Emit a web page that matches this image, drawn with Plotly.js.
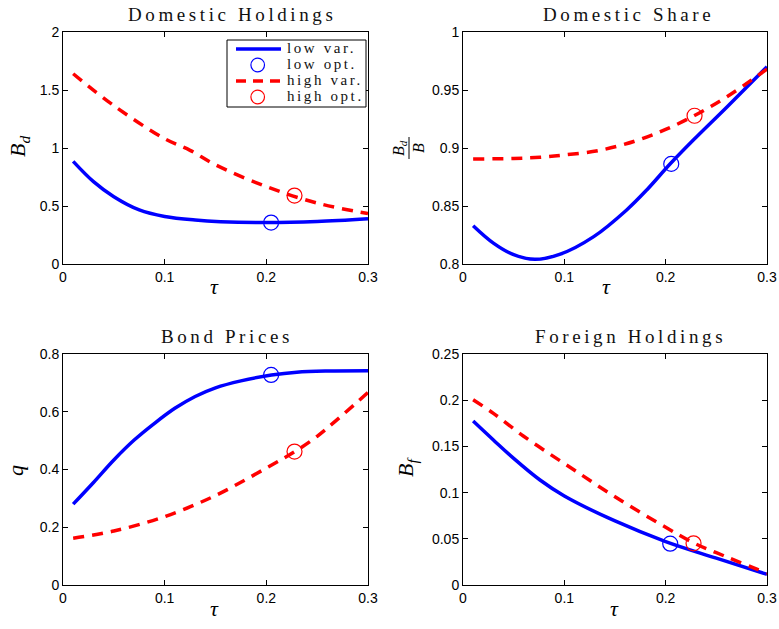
<!DOCTYPE html>
<html>
<head>
<meta charset="utf-8">
<script src="https://cdn.plot.ly/plotly-3.0.1.min.js"></script>
<style>
html,body{margin:0;padding:0;background:#fff;}
#chart{width:779px;height:629px;}
</style>
</head>
<body>
<div id="chart"></div>
<script>
// ---------- Data ----------
// Panel 1: Domestic Holdings B_d
const bdLowTau  = [0.01, 0.03, 0.05, 0.075, 0.1, 0.13, 0.155, 0.2, 0.25, 0.3];
const bdLowVal  = [0.885, 0.71, 0.58, 0.466, 0.41, 0.379, 0.365, 0.357, 0.366, 0.39];
const bdHighTau = [0.01, 0.05, 0.1, 0.125, 0.15, 0.2, 0.25, 0.3];
const bdHighVal = [1.64, 1.365, 1.08, 0.98, 0.855, 0.667, 0.525, 0.435];
const bdLowOpt  = [0.2047, 0.357];
const bdHighOpt = [0.2277, 0.59];

// Panel 2: Domestic Share B_d / B
const shLowTau  = [0.01, 0.03, 0.05, 0.071, 0.096, 0.129, 0.1615, 0.1813, 0.2043, 0.2273, 0.26, 0.3];
const shLowVal  = [0.833, 0.818, 0.808, 0.804, 0.8085, 0.8236, 0.8466, 0.8638, 0.8862, 0.9069, 0.935, 0.970];
const shHighTau = [0.01, 0.05, 0.076, 0.1, 0.135, 0.17, 0.2, 0.2285, 0.26, 0.3];
const shHighVal = [0.8905, 0.891, 0.892, 0.894, 0.898, 0.906, 0.916, 0.928, 0.944, 0.968];
const shLowOpt  = [0.2055, 0.8863];
const shHighOpt = [0.2285, 0.9278];

// Panel 3: Bond Prices q
const qLowTau   = [0.01, 0.03, 0.05, 0.07, 0.09, 0.11, 0.13, 0.15, 0.175, 0.205, 0.23, 0.26, 0.3];
const qLowVal   = [0.28, 0.355, 0.433, 0.502, 0.56, 0.612, 0.653, 0.683, 0.707, 0.727, 0.737, 0.741, 0.742];
const qHighTau  = [0.01, 0.05, 0.1, 0.15, 0.2, 0.228, 0.25, 0.3];
const qHighVal  = [0.162, 0.187, 0.237, 0.31, 0.405, 0.462, 0.515, 0.667];
const qLowOpt   = [0.2047, 0.7275];
const qHighOpt  = [0.2277, 0.462];

// Panel 4: Foreign Holdings B_f
const bfLowTau  = [0.01, 0.03, 0.05, 0.076, 0.1, 0.15, 0.2, 0.25, 0.3];
const bfLowVal  = [0.1775, 0.157, 0.137, 0.1136, 0.0963, 0.0693, 0.047, 0.029, 0.0115];
const bfHighTau = [0.01, 0.03, 0.0595, 0.0957, 0.1112, 0.15, 0.2, 0.2285, 0.25, 0.3];
const bfHighVal = [0.2005, 0.1858, 0.1613, 0.1345, 0.1234, 0.0954, 0.0625, 0.0451, 0.035, 0.0126];
const bfLowOpt  = [0.2045, 0.0447];
const bfHighOpt = [0.2275, 0.0451];

const legendNames = ['low var.', 'low opt.', 'high var.', 'high opt.'];
const panelTitles = ['Domestic Holdings', 'Domestic Share', 'Bond Prices', 'Foreign Holdings'];
const xTicks = [0, 0.1, 0.2, 0.3];

// ---------- Styling ----------
const W = 779, H = 629;
const BLUE = 'rgb(0,0,255)', RED = 'rgb(255,0,0)';
const DASH = '11px,8px';
const px = v => v / W, py = v => 1 - v / H;

function panel(ax, lowT, lowV, highT, highV, lowO, highO) {
  const xa = ax === 1 ? 'x' : 'x' + ax, ya = ax === 1 ? 'y' : 'y' + ax;
  return [
    {x: lowT, y: lowV, xaxis: xa, yaxis: ya, type: 'scatter', mode: 'lines', name: legendNames[0],
     line: {color: BLUE, width: 3.5, shape: 'spline', smoothing: 1}},
    {x: [lowO[0]], y: [lowO[1]], xaxis: xa, yaxis: ya, type: 'scatter', mode: 'markers', name: legendNames[1],
     marker: {symbol: 'circle-open', size: 15, color: BLUE, line: {width: 1.2, color: BLUE}}},
    {x: highT, y: highV, xaxis: xa, yaxis: ya, type: 'scatter', mode: 'lines', name: legendNames[2],
     line: {color: RED, width: 3.5, dash: DASH, shape: 'spline', smoothing: 1}},
    {x: [highO[0]], y: [highO[1]], xaxis: xa, yaxis: ya, type: 'scatter', mode: 'markers', name: legendNames[3],
     marker: {symbol: 'circle-open', size: 15, color: RED, line: {width: 1.2, color: RED}}}
  ];
}

const data = [].concat(
  panel(1, bdLowTau, bdLowVal, bdHighTau, bdHighVal, bdLowOpt, bdHighOpt),
  panel(2, shLowTau, shLowVal, shHighTau, shHighVal, shLowOpt, shHighOpt),
  panel(3, qLowTau, qLowVal, qHighTau, qHighVal, qLowOpt, qHighOpt),
  panel(4, bfLowTau, bfLowVal, bfHighTau, bfHighVal, bfLowOpt, bfHighOpt)
);

const tickFont = {family: 'Liberation Sans, Arial, sans-serif', size: 14, color: '#000'};
function axis(domain, anchor, range, dtick) {
  return {
    domain: domain, anchor: anchor, range: range, dtick: dtick, tick0: range[0],
    showline: true, linecolor: '#000', linewidth: 1, mirror: 'ticks',
    ticks: 'inside', ticklen: 5, tickwidth: 1, tickcolor: '#000',
    showgrid: false, zeroline: false, tickfont: tickFont, fixedrange: true
  };
}
const xL = [px(63), px(368)], xR = [px(463), px(767)];
const yT = [py(264), py(32)], yB = [py(585), py(354)];

const serif = 'Liberation Serif, Times New Roman, serif';
function title(txt, x, y) {
  return {text: '<span style="letter-spacing:3.6px">' + txt + '</span>', xref: 'paper', yref: 'paper',
          x: px(x), y: py(y), xanchor: 'center', yanchor: 'middle', showarrow: false,
          font: {family: serif, size: 19, color: '#111'}};
}
function label(txt, x, y, angle, size) {
  return {text: txt, xref: 'paper', yref: 'paper', x: px(x), y: py(y), xanchor: 'center', yanchor: 'middle',
          showarrow: false, textangle: angle, font: {family: serif, size: size || 22, color: '#000'}};
}
function legText(txt, y) {
  return {text: '<span style="letter-spacing:2.6px">' + txt + '</span>', xref: 'paper', yref: 'paper',
          x: px(285), y: py(y), xanchor: 'left', yanchor: 'middle', showarrow: false,
          font: {family: serif, size: 15, color: '#111'}};
}
function legCircle(cx, cy, r, color) {
  return {type: 'circle', xref: 'paper', yref: 'paper', layer: 'above',
          x0: px(cx - r), x1: px(cx + r), y0: py(cy + r), y1: py(cy - r),
          line: {color: color, width: 1.2}, fillcolor: 'rgba(0,0,0,0)'};
}

// legend row centres (pixels)
const legRows = [49, 65, 81, 97];

const layout = {
  width: W, height: H, margin: {l: 0, r: 0, t: 0, b: 0},
  paper_bgcolor: '#fff', plot_bgcolor: '#fff',
  showlegend: false,
  xaxis:  axis(xL, 'y',  [0, 0.3], 0.1),
  yaxis:  axis(yT, 'x',  [0, 2], 0.5),
  xaxis2: axis(xR, 'y2', [0, 0.3], 0.1),
  yaxis2: axis(yT, 'x2', [0.8, 1], 0.05),
  xaxis3: axis(xL, 'y3', [0, 0.3], 0.1),
  yaxis3: axis(yB, 'x3', [0, 0.8], 0.2),
  xaxis4: axis(xR, 'y4', [0, 0.3], 0.1),
  yaxis4: axis(yB, 'x4', [0, 0.25], 0.05),
  annotations: [
    title(panelTitles[0], 232, 14),
    title(panelTitles[1], 628, 14),
    title(panelTitles[2], 227, 336),
    title(panelTitles[3], 630, 336),
    label('<i>τ</i>', 215, 286),
    label('<i>τ</i>', 606, 286),
    label('<i>τ</i>', 215, 608),
    label('<i>τ</i>', 614, 608),
    label('<i>B<sub>d</sub></i>', 19, 147, -90),
    label('<i>q</i>', 15, 471, -90),
    label('<i>B<sub>f</sub></i>', 407, 467, -90),
    label('<i>B<sub>d</sub></i>', 399, 148, -90, 16),
    label('<i>B</i>', 418, 148, -90, 16),
    legText(legendNames[0], legRows[0] - 1),
    legText(legendNames[1], legRows[1] - 1),
    legText(legendNames[2], legRows[2] - 1),
    legText(legendNames[3], legRows[3] - 1)
  ],
  shapes: [
    // fraction bar of B_d / B
    {type: 'line', xref: 'paper', yref: 'paper', x0: px(409), x1: px(409), y0: py(137), y1: py(159),
     line: {color: '#000', width: 1}},
    // legend box and samples
    {type: 'rect', xref: 'paper', yref: 'paper', layer: 'above', x0: px(227), x1: px(366), y0: py(107), y1: py(40),
     line: {color: '#000', width: 1}, fillcolor: '#fff'},
    {type: 'line', xref: 'paper', yref: 'paper', layer: 'above', x0: px(236), x1: px(281), y0: py(legRows[0]), y1: py(legRows[0]),
     line: {color: BLUE, width: 3.5}},
    legCircle(257.7, legRows[1], 6.8, BLUE),
    {type: 'line', xref: 'paper', yref: 'paper', layer: 'above', x0: px(236), x1: px(281), y0: py(legRows[2]), y1: py(legRows[2]),
     line: {color: RED, width: 3.5, dash: '10px,7px'}},
    legCircle(257.7, legRows[3], 6.8, RED)
  ]
};

layout.xaxis.tickvals = xTicks; layout.xaxis2.tickvals = xTicks;
layout.xaxis3.tickvals = xTicks; layout.xaxis4.tickvals = xTicks;

Plotly.newPlot('chart', data, layout, {staticPlot: true, displayModeBar: false});
</script>
</body>
</html>
